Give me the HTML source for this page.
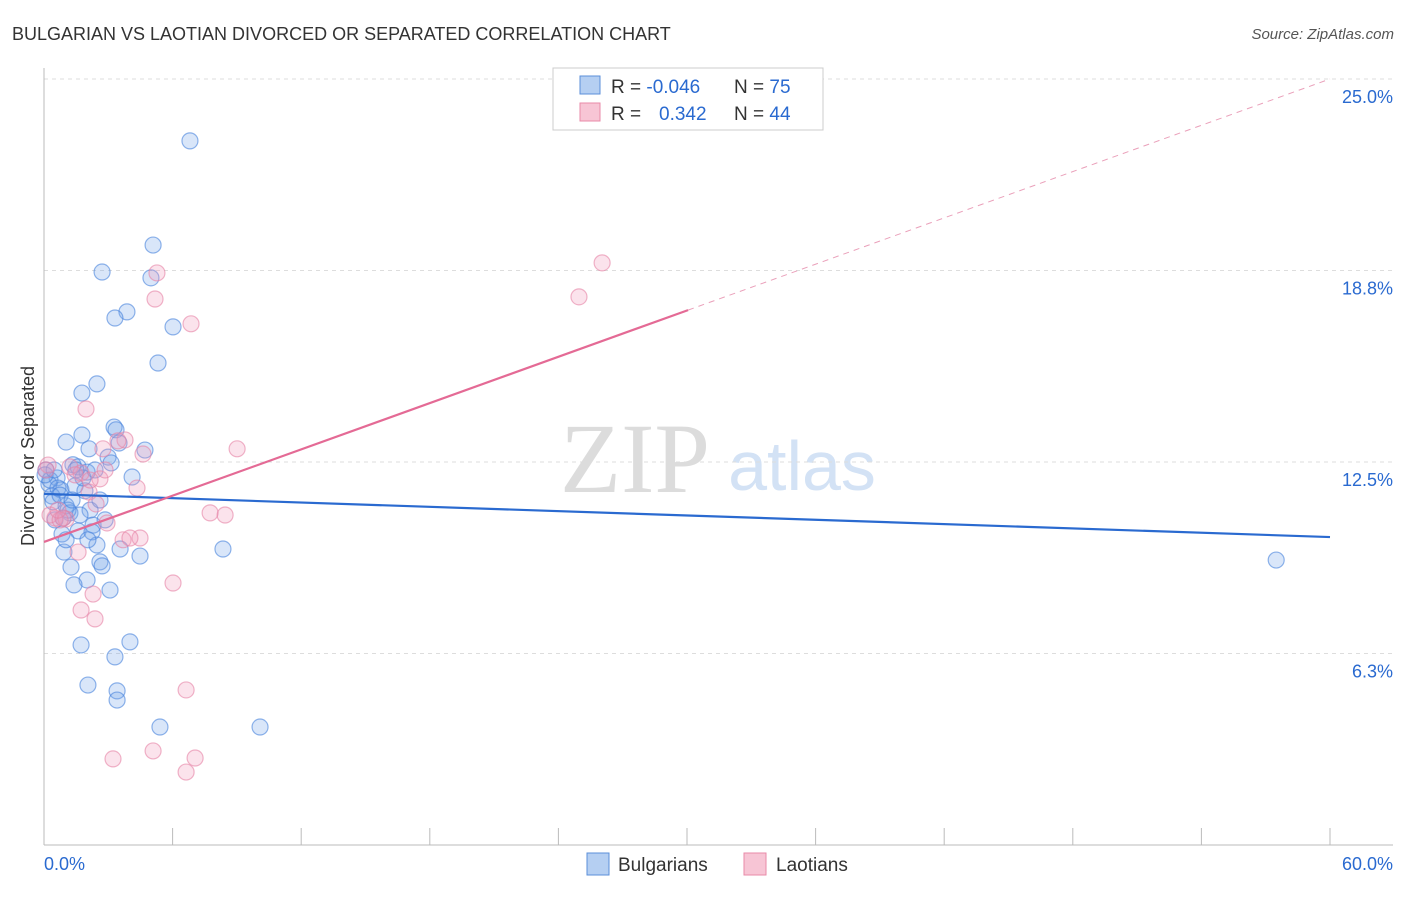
<!DOCTYPE html>
<html><head><meta charset="utf-8"><style>
body{margin:0;background:#fff;font-family:"Liberation Sans",sans-serif;}
svg text{font-family:"Liberation Sans",sans-serif;}
</style></head><body>
<svg id="chart" width="1406" height="892" xmlns="http://www.w3.org/2000/svg">
<text x="12" y="40" font-size="18" fill="#333">BULGARIAN VS LAOTIAN DIVORCED OR SEPARATED CORRELATION CHART</text>
<text x="1394" y="39" font-size="15" fill="#555" text-anchor="end" font-style="italic">Source: ZipAtlas.com</text>
<text x="34" y="456" font-size="18" fill="#333" text-anchor="middle" transform="rotate(-90 34 456)">Divorced or Separated</text>
<g><text x="635" y="492" font-size="100" fill="#dcdcdc" style="font-family:'Liberation Serif',serif" text-anchor="middle">ZIP</text><text x="802" y="490" font-size="70" fill="#d3e2f5" text-anchor="middle">atlas</text></g>
<g id="grid"></g><g id="axes"></g><g id="pts"></g><g id="lines"></g>
<g>
<rect x="553" y="68" width="270" height="62" fill="#fff" stroke="#ccc"/>
<rect x="580" y="76" width="20" height="18" fill="#b5cff2" stroke="#5b8fd9"/>
<rect x="580" y="103" width="20" height="18" fill="#f7c5d5" stroke="#e88aa8"/>
<text x="611" y="93" font-size="19" fill="#333">R = <tspan fill="#2a6ad0">-0.046</tspan></text>
<text x="734" y="93" font-size="19" fill="#333">N = <tspan fill="#2a6ad0">75</tspan></text>
<text x="611" y="120" font-size="19" fill="#333">R = </text><text x="659" y="120" font-size="19" fill="#2a6ad0">0.342</text>
<text x="734" y="120" font-size="19" fill="#333">N = <tspan fill="#2a6ad0">44</tspan></text>
</g>
<g>
<rect x="587" y="853" width="22" height="22" fill="#b5cff2" stroke="#5b8fd9"/>
<text x="618" y="871" font-size="19" fill="#333">Bulgarians</text>
<rect x="744" y="853" width="22" height="22" fill="#f7c5d5" stroke="#e88aa8"/>
<text x="776" y="871" font-size="19" fill="#333">Laotians</text>
</g>
</svg>
<script>
const yTicks=[6.25,12.5,18.75,25];
const yTickLabels=["6.3%","12.5%","18.8%","25.0%"];
const xTickLabels=["0.0%","60.0%"];
const blueX=[6.81,5.09,2.71,4.99,3.87,3.31,6.02,5.32,2.47,1.77,3.27,1.77,3.36,1.03,4.71,2.10,3.50,2.99,3.13,1.35,1.59,2.01,0.61,0.23,0.79,1.45,1.91,0.37,4.11,1.03,0.42,1.21,2.15,0.89,2.29,1.59,0.84,2.24,2.47,3.55,0.93,4.48,8.35,2.61,1.26,2.71,2.01,1.40,3.08,4.01,1.73,3.31,2.05,3.41,3.41,5.41,10.08,57.49,0.09,0.28,0.65,1.12,1.68,0.51,0.05,0.75,1.31,1.82,2.38,2.61,2.85,1.03,1.49,0.47,2.05];
const blueY=[22.98,19.58,18.70,18.51,17.40,17.20,16.91,15.73,15.05,14.75,13.64,13.38,13.55,13.15,12.89,12.93,13.12,12.66,12.47,12.41,12.34,12.17,11.98,11.78,11.59,11.72,11.56,11.39,12.01,11.07,11.20,10.84,10.93,10.67,10.44,10.25,10.15,10.22,9.79,9.66,9.56,9.43,9.66,9.24,9.07,9.11,8.65,8.49,8.32,6.63,6.53,6.14,5.22,5.03,4.73,3.85,3.85,9.30,12.24,11.91,11.65,10.93,10.77,10.61,12.08,11.42,11.26,11.98,12.24,11.26,10.61,9.96,12.24,12.24,9.96];
const pinkX=[26.04,5.27,24.96,5.18,6.86,1.96,3.78,3.45,2.75,9.01,4.62,1.21,1.73,2.61,4.34,2.10,2.43,7.75,8.45,0.51,1.03,2.94,0.89,3.69,4.48,4.01,1.59,6.02,2.29,1.73,2.38,6.63,5.09,3.22,7.05,6.63,0.19,0.28,0.75,0.65,1.45,2.15,2.85,0.09];
const pinkY=[19.00,18.67,17.89,17.82,17.01,14.23,13.22,13.19,12.93,12.93,12.76,12.34,12.14,11.95,11.65,11.52,11.13,10.84,10.77,10.67,10.64,10.51,10.67,9.96,10.02,10.02,9.56,8.55,8.19,7.67,7.38,5.06,3.07,2.81,2.84,2.38,12.40,10.77,10.61,10.93,12.08,11.91,12.24,12.24];
const blueTrend=[11.46,10.05];
const pinkTrend=[9.89,25.0];
const pinkSolidEnd=30.05;
const NS="http://www.w3.org/2000/svg";
const sx=v=>44+v/60*1286, sy=v=>845-v/6.25*191.5;
function mk(t,a,p){const e=document.createElementNS(NS,t);for(const k in a)e.setAttribute(k,a[k]);p.appendChild(e);return e;}
const grid=document.getElementById('grid'),axes=document.getElementById('axes'),pts=document.getElementById('pts'),lines=document.getElementById('lines');
yTicks.forEach((t,i)=>{
 const g=mk('line',{x1:44,x2:1393,y1:sy(t),y2:sy(t),stroke:'#ddd','stroke-dasharray':'4,4'},grid);
 
 
 const l=mk('text',{x:1393,y:sy(t)+24,'font-size':18,fill:'#2a6ad0','text-anchor':'end'},axes);
 l.textContent=yTickLabels[i];
 
 
});
const ya=mk('line',{x1:44,x2:44,y1:68,y2:845,stroke:'#bbb'},axes);


const xa=mk('line',{x1:44,x2:1393,y1:845,y2:845,stroke:'#bbb'},axes);


for(let i=0;i<=10;i++){const tk=mk('line',{x1:sx(i*6),x2:sx(i*6),y1:828,y2:845,stroke:'#bbb'},axes);
 
 }
[[0,'start',44],[60,'end',1393]].forEach((d,i)=>{const t=mk('text',{x:d[2],y:870,'font-size':18,fill:'#2a6ad0','text-anchor':d[1]},axes);t.textContent=xTickLabels[i];
 
 });
function dots(X,Y,fill,stroke,name){X.forEach((x,i)=>{const c=mk('circle',{cx:sx(x),cy:sy(Y[i]),r:8,fill:fill,stroke:stroke,'stroke-width':1.2},pts);
 
 });}
dots(blueX,blueY,'rgba(120,165,235,0.28)','rgba(70,130,220,0.6)','bulgarian-point');
dots(pinkX,pinkY,'rgba(240,155,185,0.28)','rgba(230,130,165,0.6)','laotian-point');
const bl=mk('line',{x1:sx(0),y1:sy(blueTrend[0]),x2:sx(60),y2:sy(blueTrend[1]),stroke:'#2a6ad0','stroke-width':2.2},lines);


const pAt=x=>pinkTrend[0]+(pinkTrend[1]-pinkTrend[0])*x/60;
const pl=mk('line',{x1:sx(0),y1:sy(pAt(0)),x2:sx(pinkSolidEnd),y2:sy(pAt(pinkSolidEnd)),stroke:'#e46a95','stroke-width':2.2},lines);


const pd=mk('line',{x1:sx(pinkSolidEnd),y1:sy(pAt(pinkSolidEnd)),x2:sx(60),y2:sy(pAt(60)),stroke:'#eaa0ba','stroke-width':1,'stroke-dasharray':'6,5'},lines);


</script>
</body></html>
